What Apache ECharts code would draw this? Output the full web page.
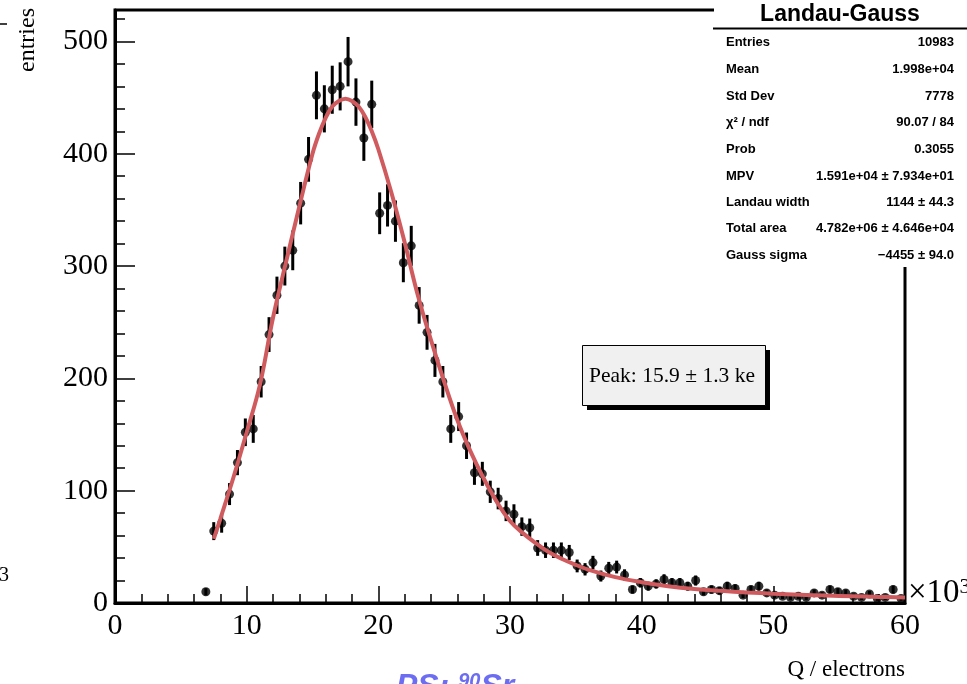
<!DOCTYPE html>
<html>
<head>
<meta charset="utf-8">
<title>Landau-Gauss</title>
<script src="https://cdn.jsdelivr.net/npm/echarts@6/dist/echarts.min.js"></script>
<style>
  html, body { margin: 0; padding: 0; background: #fff; }
  #chart { width: 967px; height: 684px; }
</style>
</head>
<body>
<div id="chart"></div>
<script>
// bin centres (ke) of the filled bins
var binCenters = [
  6.9, 7.5, 8.1, 8.7, 9.3, 9.9, 10.5, 11.1, 11.7, 12.3, 12.9, 13.5, 14.1, 14.7,
  15.3, 15.9, 16.5, 17.1, 17.7, 18.3, 18.9, 19.5, 20.1, 20.7, 21.3, 21.9, 22.5,
  23.1, 23.7, 24.3, 24.9, 25.5, 26.1, 26.7, 27.3, 27.9, 28.5, 29.1, 29.7, 30.3,
  30.9, 31.5, 32.1, 32.7, 33.3, 33.9, 34.5, 35.1, 35.7, 36.3, 36.9, 37.5, 38.1,
  38.7, 39.3, 39.9, 40.5, 41.1, 41.7, 42.3, 42.9, 43.5, 44.1, 44.7, 45.3, 45.9,
  46.5, 47.1, 47.7, 48.3, 48.9, 49.5, 50.1, 50.7, 51.3, 51.9, 52.5, 53.1, 53.7,
  54.3, 54.9, 55.5, 56.1, 56.7, 57.3, 57.9, 58.5, 59.1, 59.7
];
var entries = [
  10, 64, 71, 97, 125, 152, 155, 197, 239, 274, 300, 314, 356, 395,
  452, 440, 457, 460, 482, 446, 414, 444, 347, 354, 340, 303, 318,
  265, 241, 216, 197, 155, 166, 140, 116, 115, 99, 93, 82, 79,
  68, 67, 49, 47, 47, 47, 45, 33, 30, 36, 24, 31, 32,
  25, 12, 18, 15, 17, 21, 18, 18, 15, 20, 10, 12, 11,
  15, 13, 7, 12, 15, 9, 7, 6, 5, 6, 5, 9, 7,
  12, 10, 9, 6, 5, 8, 4, 5, 12, 4
];
var errors = [
  3.2, 8.0, 8.4, 9.8, 11.2, 12.3, 12.4, 14.0, 15.5, 16.6, 17.3, 17.7, 18.9, 19.9,
  21.3, 21.0, 21.4, 21.4, 22.0, 21.1, 20.3, 21.1, 18.6, 18.8, 18.4, 17.4, 17.8,
  16.3, 15.5, 14.7, 14.0, 12.4, 12.9, 11.8, 10.8, 10.7, 9.9, 9.6, 9.1, 8.9,
  8.2, 8.2, 7.0, 6.9, 6.9, 6.9, 6.7, 5.7, 5.5, 6.0, 4.9, 5.6, 5.7,
  5.0, 3.5, 4.2, 3.9, 4.1, 4.6, 4.2, 4.2, 3.9, 4.5, 3.2, 3.5, 3.3,
  3.9, 3.6, 2.6, 3.5, 3.9, 3.0, 2.6, 2.4, 2.2, 2.4, 2.2, 3.0, 2.6,
  3.5, 3.2, 3.0, 2.4, 2.2, 2.8, 2.0, 2.2, 3.5, 2.0
];
// fitted Landau-Gauss curve
var fitX = [7.5, 8, 9, 10, 11, 12, 13, 14, 15, 15.5, 16, 16.5, 17, 17.5, 18, 18.5, 19, 19.5, 20, 21, 22, 23, 24, 25,
  26, 27, 28, 29, 30, 31, 32, 33, 34, 35, 36, 38, 40, 42, 44, 46, 48, 50, 52, 54, 56, 58, 60];
var fitY = [57, 75, 112, 152, 194, 254, 304, 353, 400, 418, 432, 442, 447, 449, 447, 442, 433, 420, 404, 365, 321, 274, 234, 197,
  163, 135, 111, 90, 73, 62, 53, 45, 39, 34, 29.5, 23, 18.5, 15, 12.5, 10.8, 9.4, 8.3, 7.4, 6.6, 6.0, 5.4, 5.0];

var statLabels = ["Entries", "Mean", "Std Dev", "\u03c7\u00b2 / ndf", "Prob", "MPV", "Landau width", "Total area", "Gauss sigma"];
var statValues = ["10983", "1.998e+04", "7778", "90.07 / 84", "0.3055", "1.591e+04 \u00b1 7.934e+01",
  "1144 \u00b1 44.3", "4.782e+06 \u00b1 4.646e+04", "\u22124455 \u00b1 94.0"];

var xTicks = { min: 0, max: 60, interval: 10 };
var yTicks = { min: 0, max: 528, interval: 100 };

var points = [], bars = [], fit = [];
for (var i = 0; i < binCenters.length; i++) {
  points.push([binCenters[i], entries[i]]);
  bars.push([binCenters[i], entries[i] - errors[i], entries[i] + errors[i]]);
}
for (var j = 0; j < fitX.length; j++) fit.push([fitX[j], fitY[j]]);

var serif = "Liberation Serif";
var sans = "Liberation Sans";

var graphics = [];
// stats box
graphics.push({ type: "rect", left: 714, top: 0, shape: { width: 253, height: 267 }, style: { fill: "#fff" }, z: 100 });
graphics.push({ type: "text", x: 840, y: 15, z: 101,
  style: { text: "Landau-Gauss", font: "bold 23px " + sans, fill: "#000", textAlign: "center", textVerticalAlign: "middle" } });
graphics.push({ type: "line", z: 101, shape: { x1: 713, y1: 28.5, x2: 967, y2: 28.5 }, style: { stroke: "#000", lineWidth: 2 } });
var rowY = [42, 69, 96, 122, 149, 176, 202, 228, 255];
for (var k = 0; k < statLabels.length; k++) {
  graphics.push({ type: "text", x: 726, y: rowY[k], z: 101,
    style: { text: statLabels[k], font: "bold 13px " + sans, fill: "#000", textAlign: "left", textVerticalAlign: "middle" } });
  graphics.push({ type: "text", x: 954, y: rowY[k], z: 101,
    style: { text: statValues[k], font: "bold 13px " + sans, fill: "#000", textAlign: "right", textVerticalAlign: "middle" } });
}
// peak box with shadow
graphics.push({ type: "rect", left: 587, top: 350, shape: { width: 183, height: 60 }, style: { fill: "#000" }, z: 100 });
graphics.push({ type: "rect", left: 582, top: 345, shape: { width: 183, height: 60 },
  style: { fill: "#f0f0f0", stroke: "#000", lineWidth: 1 }, z: 101 });
graphics.push({ type: "text", x: 672, y: 376, z: 102,
  style: { text: "Peak: 15.9 \u00b1 1.3 ke", font: "21.5px " + serif, fill: "#000", textAlign: "center", textVerticalAlign: "middle" } });
// axis titles and stray marks
graphics.push({ type: "text", x: 28, y: 40, rotation: Math.PI / 2, z: 101,
  style: { text: "entries", font: "24px " + serif, fill: "#000", textAlign: "center", textVerticalAlign: "middle" } });
graphics.push({ type: "text", x: 905, y: 670, z: 101,
  style: { text: "Q / electrons", font: "23px " + serif, fill: "#000", textAlign: "right", textVerticalAlign: "middle" } });
graphics.push({ type: "text", x: 908, y: 593, z: 101,
  style: { text: "{m|\u00d710}{e|3}", textAlign: "left", textVerticalAlign: "middle",
    rich: { m: { font: "33px " + serif, fill: "#000" }, e: { font: "22px " + serif, fill: "#000", verticalAlign: "top" } } } });
graphics.push({ type: "text", x: 4, y: 576, z: 101,
  style: { text: "3", font: "20px " + serif, fill: "#000", textAlign: "center", textVerticalAlign: "middle" } });
graphics.push({ type: "line", z: 101, shape: { x1: 0, y1: 24, x2: 7, y2: 24 }, style: { stroke: "#000", lineWidth: 1.5 } });
graphics.push({ type: "text", x: 396, y: 671, z: 101,
  style: {
    text: "{a|PS: }{s|90}{a|Sr}",
    textAlign: "left", textVerticalAlign: "top",
    rich: {
      a: { font: "italic bold 32px " + sans, fill: "#6d6df2" },
      s: { font: "italic bold 20px " + sans, fill: "#6d6df2", verticalAlign: "top" }
    }
  } });

var option = {
  backgroundColor: "#fff",
  animation: false,
  grid: { left: 115, right: 62, top: 10, bottom: 81, show: true, borderColor: "#000", borderWidth: 3, backgroundColor: "transparent" },
  xAxis: {
    type: "value", min: xTicks.min, max: xTicks.max, interval: xTicks.interval,
    axisLine: { show: true, lineStyle: { color: "#000", width: 3 } },
    axisTick: { show: true, inside: true, length: 17, lineStyle: { color: "#000", width: 1.5 } },
    minorTick: { show: true, splitNumber: 5, length: 9, lineStyle: { color: "#000", width: 1.5 } },
    axisLabel: { margin: 8, color: "#000", fontFamily: serif, fontSize: 30 },
    splitLine: { show: false }
  },
  yAxis: {
    type: "value", min: yTicks.min, max: yTicks.max, interval: yTicks.interval,
    axisLine: { show: true, lineStyle: { color: "#000", width: 3 } },
    axisTick: { show: true, inside: true, length: 20, lineStyle: { color: "#000", width: 1.5 } },
    minorTick: { show: true, splitNumber: 5, length: 10, lineStyle: { color: "#000", width: 1.5 } },
    axisLabel: { margin: 7, color: "#000", fontFamily: serif, fontSize: 30, showMaxLabel: false },
    splitLine: { show: false }
  },
  graphic: graphics,
  series: [
    {
      type: "custom",
      data: bars,
      encode: { x: 0, y: [1, 2] },
      z: 3,
      renderItem: function (params, api) {
        var a = api.coord([api.value(0), api.value(1)]);
        var b = api.coord([api.value(0), api.value(2)]);
        return { type: "line", shape: { x1: a[0], y1: a[1], x2: b[0], y2: b[1] }, style: { stroke: "#000", lineWidth: 3 } };
      }
    },
    {
      type: "scatter",
      data: points,
      symbol: "circle",
      symbolSize: 9,
      itemStyle: { color: "#000" },
      z: 4
    },
    {
      type: "line",
      data: fit,
      smooth: 0.4,
      showSymbol: false,
      lineStyle: { color: "#cf5b5e", width: 4 },
      z: 5
    }
  ]
};

var myChart = echarts.init(document.getElementById("chart"));
myChart.setOption(option);
window.addEventListener("resize", function () {
  myChart.resize();
});
</script>
</body>
</html>
